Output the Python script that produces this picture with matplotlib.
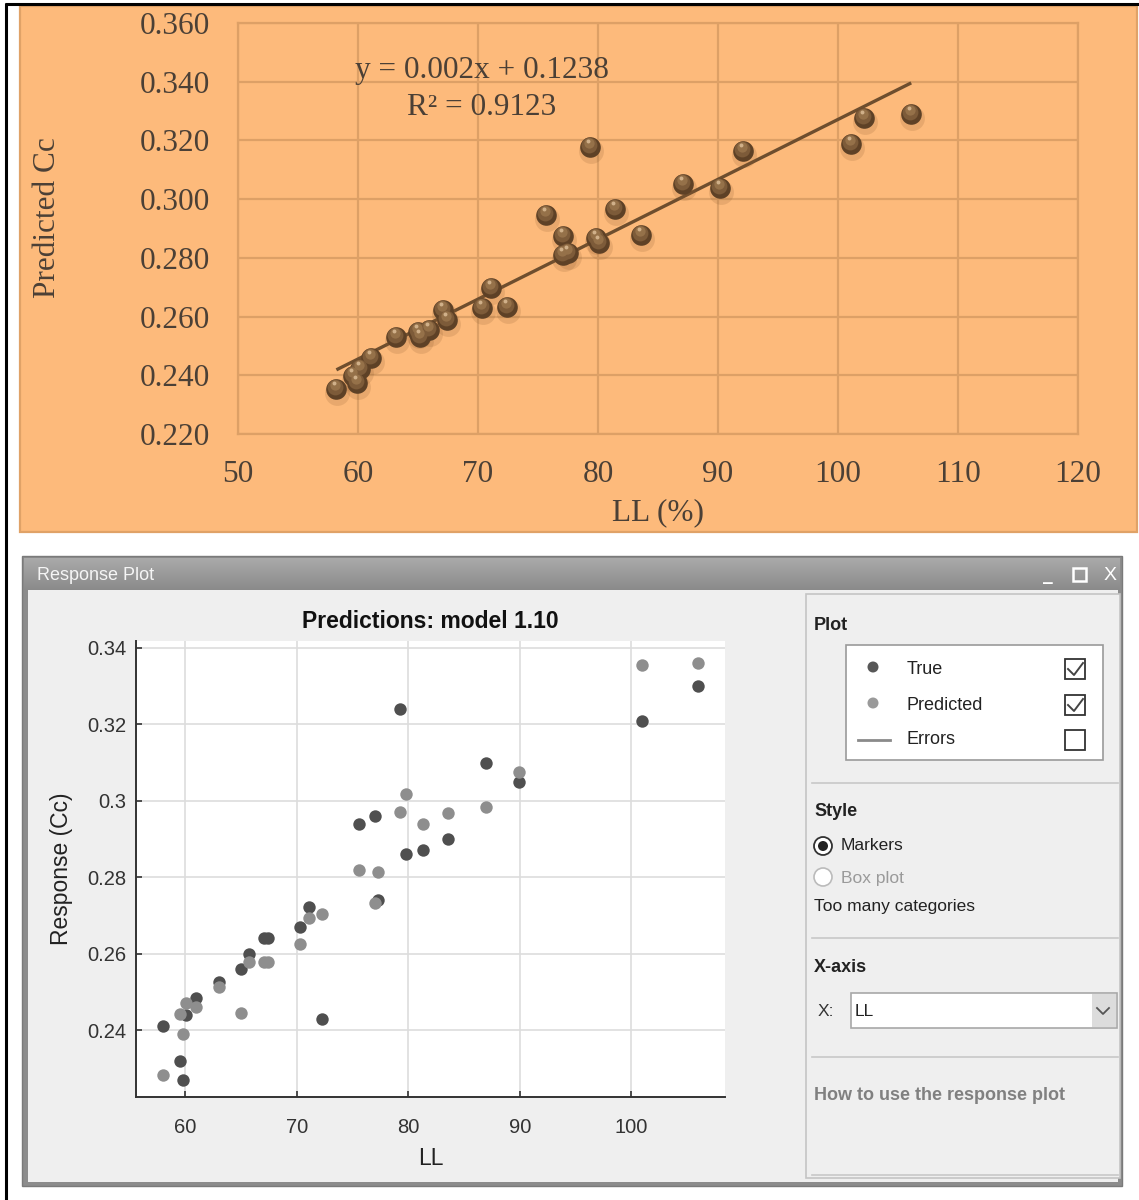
"""
Two-panel figure: Excel-style Predicted Cc vs LL chart (top) and a
MATLAB Regression Learner "Response Plot" window (bottom).
"""

import numpy as np
import matplotlib
matplotlib.use('Agg')
import matplotlib.pyplot as plt
import matplotlib.transforms as mtrans
from matplotlib.patches import Rectangle, Circle
from matplotlib.ticker import FuncFormatter

W, H = 1139, 1200

# ---- Data: top chart (Predicted Cc vs LL) ----
top_ll = [58.2, 59.6, 59.9, 60.2, 61.1, 63.2, 65.0, 65.2, 65.9, 67.1, 67.4,
          70.3, 71.1, 72.4, 75.7, 77.1, 77.1, 77.5, 79.3, 79.8, 80.1, 81.4,
          83.6, 87.1, 90.2, 92.1, 101.1, 102.2, 106.1]
top_cc = [0.2353, 0.2398, 0.2373, 0.2420, 0.2458, 0.2532, 0.2549, 0.2532,
          0.2554, 0.2622, 0.2588, 0.2628, 0.2696, 0.2634, 0.2946, 0.2875,
          0.2810, 0.2816, 0.3176, 0.2867, 0.2852, 0.2966, 0.2878, 0.3051,
          0.3039, 0.3164, 0.3187, 0.3276, 0.3289]
top_xticks = [50, 60, 70, 80, 90, 100, 110, 120]
top_yticks = [0.22, 0.24, 0.26, 0.28, 0.30, 0.32, 0.34, 0.36]
eq_text = 'y = 0.002x + 0.1238'
r2_text = 'R² = 0.9123'

# ---- Data: bottom chart (response plot, model 1.10) ----
bot_ll = [58.0, 59.5, 59.8, 60.1, 61.0, 63.0, 65.0, 65.7, 67.1, 67.4, 70.3,
          71.1, 72.3, 75.6, 77.0, 77.3, 79.3, 79.8, 81.3, 83.6, 87.0, 89.9,
          101.0, 106.0]
true_cc = [0.2410, 0.2319, 0.2269, 0.2439, 0.2483, 0.2525, 0.2559, 0.2600,
           0.2640, 0.2640, 0.2669, 0.2721, 0.2428, 0.2940, 0.2961, 0.2740,
           0.3240, 0.2860, 0.2870, 0.2900, 0.3100, 0.3049, 0.3210, 0.3301]
pred_cc = [0.2282, 0.2442, 0.2389, 0.2470, 0.2460, 0.2513, 0.2446, 0.2577,
           0.2577, 0.2577, 0.2625, 0.2692, 0.2703, 0.2819, 0.2732, 0.2813,
           0.2970, 0.3018, 0.2939, 0.2968, 0.2985, 0.3074, 0.3356, 0.3361]
bot_xticks = [60, 70, 80, 90, 100]
bot_yticks = [0.24, 0.26, 0.28, 0.30, 0.32, 0.34]

# colours
ORANGE = '#FDBA7B'
ORANGE_EDGE = '#E0A267'
GRID_OR = '#DDA066'
BROWN_TXT = '#4B4036'
BROWN = '#6E4E2E'
PANEL = '#EFEFEF'
DARK_PT = '#4F4F4F'
LIGHT_PT = '#8E8E8E'

SERIF = ['Liberation Serif', 'DejaVu Serif']
SANS = ['Liberation Sans', 'DejaVu Sans']
NARROW = ['Liberation Sans Narrow', 'Liberation Sans', 'DejaVu Sans']


def px_axes(fig, x0, y0, x1, y1, **kw):
    return fig.add_axes([x0 / W, 1 - y1 / H, (x1 - x0) / W, (y1 - y0) / H], **kw)


fig = plt.figure(figsize=(W / 100, H / 100), dpi=100, facecolor='white')

# background canvas in pixel coordinates
bg = fig.add_axes([0, 0, 1, 1], zorder=0)
bg.set_xlim(0, W)
bg.set_ylim(H, 0)
bg.axis('off')

# page borders
bg.plot([5.5, 5.5], [3, H], color='black', lw=2.2, solid_capstyle='butt')
bg.plot([5, W], [3.5, 3.5], color='black', lw=2.2, solid_capstyle='butt')

# ---------------- top panel ----------------
bg.add_patch(Rectangle((20, 6), 1117, 526, facecolor=ORANGE, edgecolor=ORANGE_EDGE, lw=1.6))

ax1 = px_axes(fig, 238, 23, 1078, 434, zorder=2)
ax1.set_facecolor(ORANGE)
ax1.set_xlim(50, 120)
ax1.set_ylim(0.22, 0.36)
ax1.set_xticks(top_xticks)
ax1.set_yticks(top_yticks)
ax1.yaxis.set_major_formatter(FuncFormatter(lambda v, p: f'{v:.3f}'))
ax1.grid(True, color=GRID_OR, lw=1.6)
ax1.set_axisbelow(True)
for s in ax1.spines.values():
    s.set_color(GRID_OR)
    s.set_linewidth(1.6)
ax1.tick_params(length=0, labelsize=22.5, colors=BROWN_TXT)
ax1.tick_params(axis='y', pad=20)
ax1.tick_params(axis='x', pad=19)
for lab in ax1.get_xticklabels() + ax1.get_yticklabels():
    lab.set_family(SERIF)
ax1.set_ylabel('Predicted Cc', fontsize=22.5, family=SERIF, color=BROWN_TXT)
ax1.yaxis.set_label_coords(-0.210, 0.526)
ax1.set_xlabel('LL (%)', fontsize=22.5, family=SERIF, color=BROWN_TXT)
ax1.xaxis.set_label_coords(0.5, -0.156)

# linear trend line from the data
slope, icpt = np.polyfit(top_ll, top_cc, 1)
xs = np.array([min(top_ll), max(top_ll)])
ax1.plot(xs, slope * xs + icpt, color=BROWN, lw=2.4, zorder=3, solid_capstyle='butt')

# 3D-ish sphere markers: shadow, body, shading, highlight
def off(dx, dy):
    return mtrans.offset_copy(ax1.transData, fig=fig, x=dx, y=dy, units='dots')

ax1.scatter(top_ll, top_cc, s=320, color='#8A5A2E', alpha=0.18, lw=0,
            transform=off(1, -4), zorder=4)
ax1.scatter(top_ll, top_cc, s=220, color='#5E4126', lw=0, zorder=5)
ax1.scatter(top_ll, top_cc, s=130, color='#7D5B39', lw=0, transform=off(-1, 2), zorder=6)
ax1.scatter(top_ll, top_cc, s=55, color='#957149', lw=0, transform=off(-1, 4), zorder=7)
ax1.scatter(top_ll, top_cc, s=8, color='#D0B08A', lw=0, transform=off(-2, 6), zorder=8)

ax1.text(0.290, 0.884, eq_text, transform=ax1.transAxes, ha='center', va='center',
         fontsize=22.5, family=SERIF, color=BROWN_TXT, zorder=9)
ax1.text(0.290, 0.795, r2_text, transform=ax1.transAxes, ha='center', va='center',
         fontsize=22.5, family=SERIF, color=BROWN_TXT, zorder=9)

# ---------------- bottom window ----------------
bg.add_patch(Rectangle((22, 556), 1100, 630, facecolor='#8C8C8C', edgecolor='#7A7A7A', lw=1))
grad = np.linspace(0, 1, 50).reshape(-1, 1)
bg.imshow(grad, cmap=matplotlib.colors.LinearSegmentedColormap.from_list('tb', ['#AAAAAA', '#8A8A8A']),
          extent=(24, 1120, 590, 558), aspect='auto', zorder=1)
bg.add_patch(Rectangle((28, 590), 1090, 592, facecolor=PANEL, edgecolor='none', zorder=1))
bg.text(37, 575, 'Response Plot', fontsize=13, family=NARROW, color='#F5F5F5',
        ha='left', va='center', zorder=2)
bg.text(1048, 575, '_', fontsize=14, color='white', ha='center', va='center',
        weight='bold', zorder=2)
bg.add_patch(Rectangle((1073, 568), 13, 13, facecolor='none', edgecolor='white', lw=1.8, zorder=2))
bg.text(1110, 575, 'X', fontsize=14, color='white', ha='center', va='center',
        family=NARROW, zorder=2)

# right-hand control panel
bg.add_patch(Rectangle((806, 594), 314, 584, facecolor=PANEL, edgecolor='#C4C4C4', lw=1.2, zorder=1))
for yy in [783, 938, 1057, 1175]:
    bg.plot([812, 1118], [yy, yy], color='#C8C8C8', lw=1.2, zorder=2)

bg.text(814, 626, 'Plot', fontsize=13, weight='bold', family=SANS, color='#222222',
        va='center', zorder=3)
bg.add_patch(Rectangle((846, 645), 257, 115, facecolor='white', edgecolor='#9A9A9A', lw=1.2, zorder=2))
bg.add_patch(Circle((873, 667), 5.5, facecolor='#585858', edgecolor='none', zorder=3))
bg.add_patch(Circle((873, 703), 5.5, facecolor='#9A9A9A', edgecolor='none', zorder=3))
bg.plot([858, 890], [740, 740], color='#8A8A8A', lw=2, zorder=3)
for yy, lab in zip([669, 705, 740], ['True', 'Predicted', 'Errors']):
    bg.text(907, yy, lab, fontsize=13, family=SANS, color='#222222', va='center', zorder=3)
for yy, checked in zip([669, 705, 740], [True, True, False]):
    bg.add_patch(Rectangle((1065, yy - 10), 20, 20, facecolor='white', edgecolor='#333333',
                           lw=1.3, zorder=3))
    if checked:
        bg.plot([1068, 1074, 1083], [yy, yy + 6, yy - 6], color='#444444', lw=1.4, zorder=4)

bg.text(814, 812, 'Style', fontsize=13, weight='bold', family=SANS, color='#222222',
        va='center', zorder=3)
bg.add_patch(Circle((823, 846), 9, facecolor='white', edgecolor='#333333', lw=1.3, zorder=3))
bg.add_patch(Circle((823, 846), 5, facecolor='#222222', edgecolor='none', zorder=4))
bg.text(841, 846, 'Markers', fontsize=12.5, family=SANS, color='#222222', va='center', zorder=3)
bg.add_patch(Circle((823, 877), 9, facecolor='white', edgecolor='#BBBBBB', lw=1.2, zorder=3))
bg.text(841, 878, 'Box plot', fontsize=12.5, family=SANS, color='#9A9A9A', va='center', zorder=3)
bg.text(814, 906, 'Too many categories', fontsize=12.5, family=SANS, color='#222222',
        va='center', zorder=3)

bg.text(814, 968, 'X-axis', fontsize=13, weight='bold', family=SANS, color='#222222',
        va='center', zorder=3)
bg.text(818, 1011, 'X:', fontsize=12.5, family=SANS, color='#333333', va='center', zorder=3)
bg.add_patch(Rectangle((851, 993), 266, 35, facecolor='white', edgecolor='#A8A8A8', lw=1.2, zorder=3))
bg.add_patch(Rectangle((1092, 994), 24, 33, facecolor='#DCDCDC', edgecolor='none', zorder=3))
bg.plot([1097, 1103, 1109], [1008, 1014, 1008], color='#555555', lw=1.3, zorder=4)
bg.text(855, 1012, 'LL', fontsize=12.5, family=SANS, color='#222222', va='center', zorder=4)

bg.text(814, 1096, 'How to use the response plot', fontsize=13, weight='bold',
        family=SANS, color='#808080', va='center', zorder=3)

# response plot axes
ax2 = px_axes(fig, 136, 641, 725, 1097, zorder=2)
ax2.set_facecolor('white')
ax2.set_xlim(55.6, 108.4)
ax2.set_ylim(0.2225, 0.3418)
ax2.set_xticks(bot_xticks)
ax2.set_yticks(bot_yticks)
ax2.yaxis.set_major_formatter(FuncFormatter(lambda v, p: f'{v:g}'))
ax2.grid(True, color='#DDDDDD', lw=1.2)
ax2.set_axisbelow(True)
for side in ['top', 'right']:
    ax2.spines[side].set_visible(False)
for side in ['left', 'bottom']:
    ax2.spines[side].set_color('#333333')
    ax2.spines[side].set_linewidth(1.4)
ax2.tick_params(direction='in', length=4, width=1.2, color='#333333',
                labelsize=14.5, labelcolor='#333333', pad=7)
ax2.tick_params(axis='x', pad=15)
for lab in ax2.get_xticklabels() + ax2.get_yticklabels():
    lab.set_family(SANS)

ax2.scatter(bot_ll, true_cc, s=80, color=DARK_PT, lw=0, zorder=3)
ax2.scatter(bot_ll, pred_cc, s=80, color=LIGHT_PT, lw=0, zorder=4)

ax2.set_title('Predictions: model 1.10', fontsize=16.5, weight='bold', family=SANS,
              color='#111111', pad=9)
ax2.set_ylabel('Response (Cc)', fontsize=16.5, family=SANS, color='#222222')
ax2.yaxis.set_label_coords(-0.107, 0.5)
ax2.set_xlabel('LL', fontsize=16.5, family=SANS, color='#222222')
ax2.xaxis.set_label_coords(0.5, -0.11)

fig.savefig('out.png', dpi=100, facecolor='white')
plt.close(fig)
